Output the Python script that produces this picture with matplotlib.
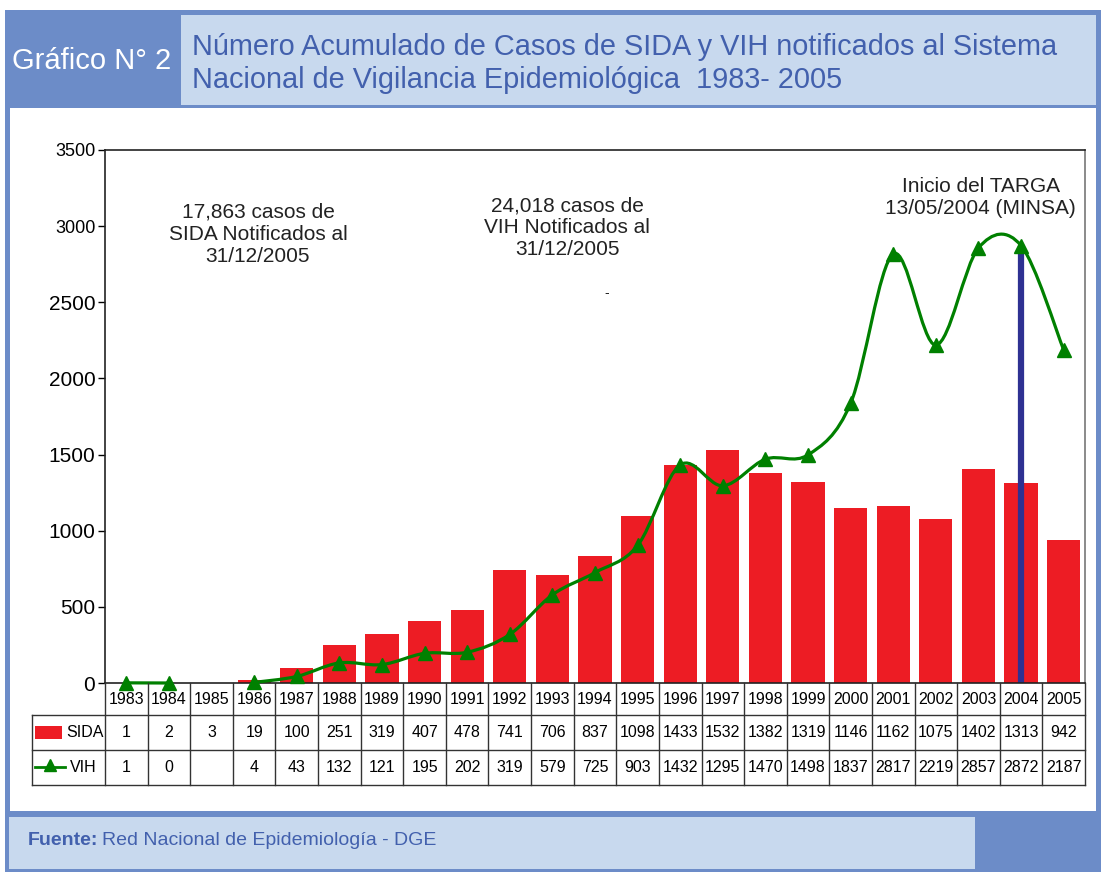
import numpy as np
import matplotlib
matplotlib.use('Agg')
import matplotlib.pyplot as plt
from matplotlib.patches import Rectangle, PathPatch
from matplotlib.path import Path

plt.rcParams['font.family'] = ['Liberation Sans', 'DejaVu Sans']

# data
years = [1983, 1984, 1985, 1986, 1987, 1988, 1989, 1990, 1991, 1992, 1993, 1994,
         1995, 1996, 1997, 1998, 1999, 2000, 2001, 2002, 2003, 2004, 2005]
sida = [1, 2, 3, 19, 100, 251, 319, 407, 478, 741, 706, 837,
        1098, 1433, 1532, 1382, 1319, 1146, 1162, 1075, 1402, 1313, 942]
vih = [1, 0, None, 4, 43, 132, 121, 195, 202, 319, 579, 725,
       903, 1432, 1295, 1470, 1498, 1837, 2817, 2219, 2857, 2872, 2187]
targa_year = 2004

W, H = 1105, 872
BLUE_DARK = '#6c8cc8'
BLUE_LIGHT = '#c8d9ee'
TEXT_BLUE = '#4260ad'
RED = '#ed1c24'
GREEN = '#008000'
NAVY = '#2e3192'

fig = plt.figure(figsize=(W / 100, H / 100), dpi=100)
fig.patch.set_facecolor('white')


def box(x0, y0, x1, y1, color, z=0):
    # pixel box (top-left origin) -> figure fraction
    r = Rectangle((x0 / W, 1 - y1 / H), (x1 - x0) / W, (y1 - y0) / H,
                  transform=fig.transFigure, facecolor=color, edgecolor='none',
                  zorder=z)
    fig.add_artist(r)


box(5, 10, 1101, 872, BLUE_DARK, -3)
box(10, 108, 1096, 811, 'white', -2)
box(181, 15, 1096, 105, BLUE_LIGHT, -2)
box(9, 817, 975, 869, BLUE_LIGHT, -2)

fig.text(92 / W, 1 - 61 / H, 'Gráfico N° 2', color='white', fontsize=21,
         ha='center', va='center')
fig.text(192 / W, 1 - 47 / H,
         'Número Acumulado de Casos de SIDA y VIH notificados al Sistema',
         color=TEXT_BLUE, fontsize=20.8, ha='left', va='center')
fig.text(192 / W, 1 - 80 / H,
         'Nacional de Vigilancia Epidemiológica  1983- 2005',
         color=TEXT_BLUE, fontsize=20.8, ha='left', va='center')

t1 = fig.text(28 / W, 1 - 840 / H, 'Fuente:', color=TEXT_BLUE, fontsize=14,
              fontweight='bold', ha='left', va='center')
fig.canvas.draw()
bb = t1.get_window_extent()
fig.text(bb.x1 / W + 4 / W, 1 - 840 / H, 'Red Nacional de Epidemiología - DGE',
         color=TEXT_BLUE, fontsize=14, ha='left', va='center')

# main chart axes
x = np.arange(len(years))
ax = fig.add_axes([105 / W, 1 - 683 / H, 980 / W, 533 / H])
ax.set_xlim(-0.5, len(years) - 0.5)
ax.set_ylim(0, 3500)
ax.set_facecolor('none')

ax.bar(x, sida, width=0.78, color=RED, zorder=1)

ti = years.index(targa_year)
ax.plot([ti, ti], [0, vih[ti]], color=NAVY, lw=4.5, zorder=2, solid_capstyle='butt')


def smooth_path(xs, ys):
    # Excel style smoothed line: cubic bezier through every point
    pts = np.column_stack([xs, ys]).astype(float)
    n = len(pts)
    verts = [pts[0]]
    codes = [Path.MOVETO]
    for i in range(n - 1):
        p0 = pts[i - 1] if i > 0 else pts[i]
        p1 = pts[i]
        p2 = pts[i + 1]
        p3 = pts[i + 2] if i + 2 < n else pts[i + 1]
        c1 = p1 + (p2 - p0) / 6.0
        c2 = p2 - (p3 - p1) / 6.0
        verts += [c1, c2, p2]
        codes += [Path.CURVE4] * 3
    return Path(verts, codes)


# VIH line is broken where 1985 is missing
segs = []
cur = []
for i, v in enumerate(vih):
    if v is None:
        if cur:
            segs.append(cur)
        cur = []
    else:
        cur.append(i)
if cur:
    segs.append(cur)
for s in segs:
    p = smooth_path([x[i] for i in s], [vih[i] for i in s])
    ax.add_patch(PathPatch(p, facecolor='none', edgecolor=GREEN, lw=2.3,
                           zorder=3, clip_on=False))
vx = [i for i, v in enumerate(vih) if v is not None]
vy = [vih[i] for i in vx]
ax.plot(vx, vy, linestyle='none', marker='^', ms=10, color=GREEN, zorder=4,
        clip_on=False)

ax.set_yticks(range(0, 3501, 500))
ax.set_xticks([])
ax.tick_params(axis='y', length=5, width=1, labelsize=15, pad=2)
for lab in ax.get_yticklabels():
    if lab.get_text() in ('3000', '3500'):
        lab.set_fontsize(13)
for sp in ax.spines.values():
    sp.set_color('#222222')
    sp.set_linewidth(1.2)
ax.spines['right'].set_color('#777777')

tc = '#222222'
ax.text(3.09, 2948, '17,863 casos de\nSIDA Notificados al\n31/12/2005', ha='center',
        va='center', fontsize=15, color=tc, linespacing=1.2)
ax.text(10.35, 2990, '24,018 casos de\nVIH Notificados al\n31/12/2005', ha='center',
        va='center', fontsize=15, color=tc, linespacing=1.2)
ax.text(11.28, 2560, '-', ha='center', va='center', fontsize=10, color=tc)
ax.text(20.05, 3190, 'Inicio del TARGA\n13/05/2004 (MINSA)', ha='center',
        va='center', fontsize=15, color=tc, linespacing=1.2)

# data table below the chart
tb = fig.add_axes([105 / W, 1 - 785 / H, 980 / W, 102 / H])
tb.set_xlim(-0.5, len(years) - 0.5)
tb.set_ylim(0, 102)
tb.axis('off')

left = -0.5 - 73 / (980 / len(years))
lc = '#333333'
for yy in (70, 35, 0):
    tb.plot([left, len(years) - 0.5], [yy, yy], color=lc, lw=1, clip_on=False)
for i in range(len(years) + 1):
    tb.plot([i - 0.5, i - 0.5], [0, 102], color=lc, lw=1, clip_on=False)
tb.plot([left, left], [0, 70], color=lc, lw=1, clip_on=False)

fs = 11.5
for i, yr in enumerate(years):
    tb.text(i, 86, str(yr), ha='center', va='center', fontsize=fs)
    tb.text(i, 52.5, str(sida[i]), ha='center', va='center', fontsize=fs)
    if vih[i] is not None:
        tb.text(i, 17.5, str(vih[i]), ha='center', va='center', fontsize=fs)

px = 980 / len(years)
tb.add_patch(Rectangle((-0.5 - 70 / px, 46), 27 / px, 13, facecolor=RED,
                       edgecolor='none', clip_on=False))
tb.text(-0.5 - 39 / px, 52.5, 'SIDA', ha='left', va='center', fontsize=fs)
tb.plot([-0.5 - 70 / px, -0.5 - 40 / px], [18, 18], color=GREEN, lw=2, clip_on=False)
tb.plot([-0.5 - 55 / px], [20], marker='^', ms=8, color=GREEN, clip_on=False)
tb.text(-0.5 - 35 / px, 17.5, 'VIH', ha='left', va='center', fontsize=fs)

fig.savefig('out.png', dpi=100)
